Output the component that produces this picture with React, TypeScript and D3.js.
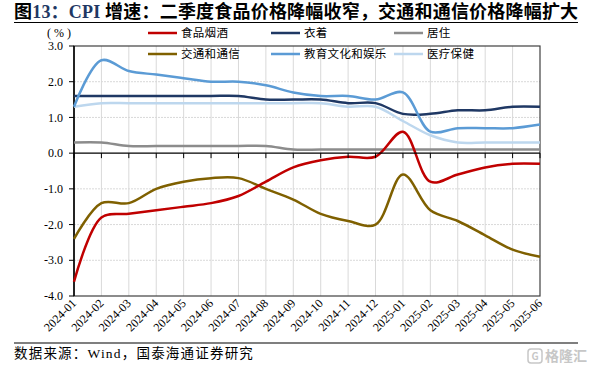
import React from "react";
import * as d3 from "d3";

const months = [
  "2024-01","2024-02","2024-03","2024-04","2024-05","2024-06","2024-07","2024-08","2024-09",
  "2024-10","2024-11","2024-12","2025-01","2025-02","2025-03","2025-04","2025-05","2025-06",
];
const food = [-3.6, -1.8, -1.7, -1.6, -1.5, -1.4, -1.2, -0.8, -0.4, -0.2, -0.1, -0.1, 0.6, -0.8, -0.6, -0.4, -0.3, -0.3];
const clothing = [1.6, 1.6, 1.6, 1.6, 1.6, 1.6, 1.6, 1.5, 1.5, 1.5, 1.4, 1.4, 1.1, 1.1, 1.2, 1.2, 1.3, 1.3];
const housing = [0.3, 0.3, 0.2, 0.2, 0.2, 0.2, 0.2, 0.2, 0.1, 0.1, 0.1, 0.1, 0.1, 0.1, 0.1, 0.1, 0.1, 0.1];
const transport = [-2.4, -1.4, -1.4, -1.0, -0.8, -0.7, -0.7, -1.0, -1.3, -1.7, -1.9, -2.0, -0.6, -1.6, -1.9, -2.3, -2.7, -2.9];
const education = [1.3, 2.6, 2.3, 2.2, 2.1, 2.0, 2.0, 1.9, 1.7, 1.6, 1.6, 1.5, 1.7, 0.6, 0.7, 0.7, 0.7, 0.8];
const medical = [1.3, 1.4, 1.4, 1.4, 1.4, 1.4, 1.4, 1.4, 1.4, 1.4, 1.3, 1.3, 0.9, 0.5, 0.3, 0.3, 0.3, 0.3];
const yTicks = [3, 2, 1, 0, -1, -2, -3, -4];

const series = [
  { name: "食品烟酒", values: food, color: "#C00000" },
  { name: "衣着", values: clothing, color: "#1F3864" },
  { name: "居住", values: housing, color: "#8C8C8C" },
  { name: "交通和通信", values: transport, color: "#7F6000" },
  { name: "教育文化和娱乐", values: education, color: "#5B9BD5" },
  { name: "医疗保健", values: medical, color: "#BDD7EE" },
];

const W = 601, H = 371;
const L = 74, R = 540, T = 46, B = 296;
const serif = "'Liberation Serif', 'Noto Sans CJK SC', serif";

export default function App() {
  const x = d3.scalePoint<string>().domain(months).range([L, R]);
  const y = d3.scaleLinear().domain([-4, 3]).range([B, T]);
  const line = d3
    .line<number>()
    .x((_, i) => x(months[i]) as number)
    .y((d) => y(d))
    .curve(d3.curveCatmullRom.alpha(0.5));

  const drawOrder = [2, 5, 1, 4, 3, 0];
  const legendX = [148, 271, 394];
  const legendY = [33, 54];

  return (
    <div style={{ position: "fixed", left: 0, top: 0 }}>
      <svg width={W} height={H} style={{ display: "block", background: "#fff" }}>
        {/* title */}
        <text x={14} y={18} fontFamily={serif} fontWeight={700} fontSize={18} letterSpacing={0.2} fill="#000">
          <tspan>图</tspan>
          <tspan fill="#1F3864">13：CPI</tspan>
          <tspan> 增速：二季度食品价格降幅收窄，交通和通信价格降幅扩大</tspan>
        </text>
        <line x1={14} x2={578} y1={22.5} y2={22.5} stroke="#000" strokeWidth={1.2} />

        {/* y unit */}
        <text x={59} y={37} fontFamily={serif} fontSize={12} textAnchor="middle" fill="#000">
          ( % )
        </text>

        {/* grid */}
        {months.map((m, i) =>
          i > 0 && i < months.length - 1 ? (
            <line key={"vg" + m} x1={x(m)} x2={x(m)} y1={T} y2={B} stroke="#D9D9D9" strokeWidth={1} />
          ) : null
        )}
        {yTicks.map((t) =>
          t !== 0 && t !== 3 && t !== -4 ? (
            <line key={"hg" + t} x1={L} x2={R} y1={y(t)} y2={y(t)} stroke="#D9D9D9" strokeWidth={1} strokeDasharray="2,1" />
          ) : null
        )}

        {/* frame */}
        <rect x={L} y={T} width={R - L} height={B - T} fill="none" stroke="#404040" strokeWidth={1.2} />
        <line x1={L} x2={L} y1={T} y2={B} stroke="#000" strokeWidth={1.5} />

        {/* y axis ticks & labels */}
        {yTicks.map((t) => (
          <g key={"yt" + t}>
            <line x1={L - 5} x2={L} y1={y(t)} y2={y(t)} stroke="#000" strokeWidth={1} />
            <text x={63} y={y(t)} dy="0.35em" textAnchor="end" fontFamily={serif} fontSize={12} fill="#000">
              {t.toFixed(1)}
            </text>
          </g>
        ))}

        {/* series */}
        {drawOrder.map((k) => (
          <path key={series[k].name} d={line(series[k].values) || ""} fill="none" stroke={series[k].color} strokeWidth={2.5} />
        ))}

        {/* x axis at zero */}
        <line x1={L} x2={R} y1={y(0)} y2={y(0)} stroke="#000" strokeWidth={1.2} />
        {months.map((m) => (
          <line key={"xt" + m} x1={x(m)} x2={x(m)} y1={y(0)} y2={y(0) + 5} stroke="#000" strokeWidth={1} />
        ))}
        {months.map((m) => (
          <text
            key={"xl" + m}
            transform={`translate(${(x(m) as number) + 3},${B + 8}) rotate(-45)`}
            textAnchor="end"
            fontFamily={serif}
            fontSize={12}
            fill="#000"
          >
            {m}
          </text>
        ))}

        {/* legend */}
        {series.map((s, i) => {
          const lx = legendX[i % 3];
          const ly = legendY[Math.floor(i / 3)];
          return (
            <g key={"lg" + s.name}>
              <line x1={lx} x2={lx + 29} y1={ly} y2={ly} stroke={s.color} strokeWidth={2.5} />
              <text x={lx + 33} y={ly} dy="0.36em" fontFamily="'Noto Sans CJK SC', sans-serif" fontSize={11.5} letterSpacing={0.3} fill="#000">
                {s.name}
              </text>
            </g>
          );
        })}

        {/* footer */}
        <line x1={14} x2={578} y1={343} y2={343} stroke="#000" strokeWidth={1.2} />
        <text x={14} y={358} fontFamily={serif} fontSize={13.5} letterSpacing={1.2} fill="#000">
          数据来源：Wind，国泰海通证券研究
        </text>
        <g opacity={0.55}>
          <rect x={528} y={349} width={14} height={14} rx={3} fill="none" stroke="#9A9A9A" strokeWidth={1.5} />
          <text x={535} y={360} textAnchor="middle" fontFamily="'Noto Sans CJK SC', sans-serif" fontSize={10} fontWeight={700} fill="#9A9A9A">
            G
          </text>
          <text x={545} y={361} fontFamily="'Noto Sans CJK SC', sans-serif" fontSize={14} fontWeight={700} fill="#9A9A9A">
            格隆汇
          </text>
        </g>
      </svg>
    </div>
  );
}
